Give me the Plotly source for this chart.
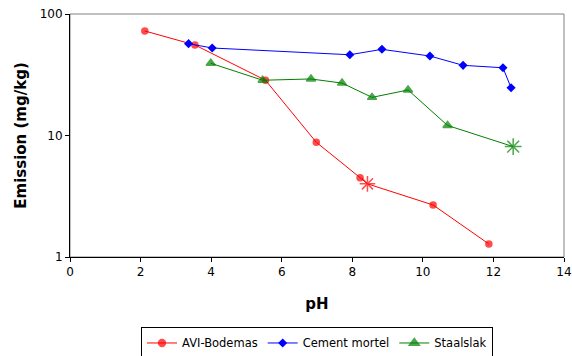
import plotly.graph_objects as go

avi_ph = [2.12, 3.54, 5.54, 6.98, 8.22, 8.43, 10.29, 11.87]
avi_em = [72.5, 55.6, 28.5, 8.8, 4.5, 4.0, 2.68, 1.28]
avi_sym = ["circle"] * 5 + ["asterisk-open"] + ["circle"] * 2
avi_size = [6] * 5 + [13] + [6] * 2

cem_ph = [3.36, 4.03, 7.93, 8.84, 10.20, 11.14, 12.27, 12.50]
cem_em = [57.0, 52.5, 46.2, 51.2, 45.1, 37.8, 36.1, 24.7]

sta_ph = [3.99, 5.46, 6.83, 7.71, 8.56, 9.58, 10.70, 12.56]
sta_em = [39.3, 28.5, 29.2, 27.0, 20.6, 23.7, 12.1, 8.1]
sta_sym = ["triangle-up"] * 7 + ["asterisk-open"]
sta_size = [8] * 7 + [14]

fig = go.Figure()
fig.add_trace(go.Scatter(
    x=avi_ph, y=avi_em, name="AVI-Bodemas", mode="lines+markers",
    line=dict(color="#FF0000", width=1),
    marker=dict(symbol=avi_sym, size=avi_size, color="#FF0000",
                line=dict(color="#FF0000", width=1.5)),
))
fig.add_trace(go.Scatter(
    x=cem_ph, y=cem_em, name="Cement mortel", mode="lines+markers",
    line=dict(color="#0000FF", width=1),
    marker=dict(symbol="diamond", size=7, color="#0000FF",
                line=dict(color="#0000FF", width=0)),
))
fig.add_trace(go.Scatter(
    x=sta_ph, y=sta_em, name="Staalslak", mode="lines+markers",
    line=dict(color="#008000", width=1),
    marker=dict(symbol=sta_sym, size=sta_size, color="#008000",
                line=dict(color="#008000", width=1.5)),
))

font_family = "DejaVu Sans, Verdana, sans-serif"

fig.update_layout(
    width=572, height=356,
    margin=dict(l=70, r=8, t=14, b=99, autoexpand=False),
    paper_bgcolor="white", plot_bgcolor="white",
    font=dict(family=font_family, size=12, color="black"),
    showlegend=True,
    legend=dict(
        orientation="h", x=0.5, xanchor="center", y=-0.29, yanchor="top",
        bordercolor="black", borderwidth=1, font=dict(size=11.5),
        itemwidth=30, tracegroupgap=0,
    ),
    shapes=[dict(type="rect", xref="paper", yref="paper", x0=0, x1=1, y0=0, y1=1,
                 line=dict(color="#808080", width=1), layer="below")],
)
fig.update_xaxes(
    range=[0, 14], tickvals=[0, 2, 4, 6, 8, 10, 12, 14], automargin=False,
    showgrid=False, zeroline=False, showline=True, linecolor="black", linewidth=1,
    ticks="outside", ticklen=4, tickcolor="black",
    title=dict(text="<b>pH</b>", font=dict(size=15), standoff=20),
)
fig.update_yaxes(
    type="log", range=[0, 2], tickvals=[1, 10, 100], ticktext=["1", "10", "100"],
    automargin=False,
    showgrid=False, zeroline=False, showline=True, linecolor="black", linewidth=1,
    ticks="outside", ticklen=4, tickcolor="black",
    title=dict(text="<b>Emission (mg/kg)</b>", font=dict(size=15), standoff=9),
)

fig.write_html("out.html")
